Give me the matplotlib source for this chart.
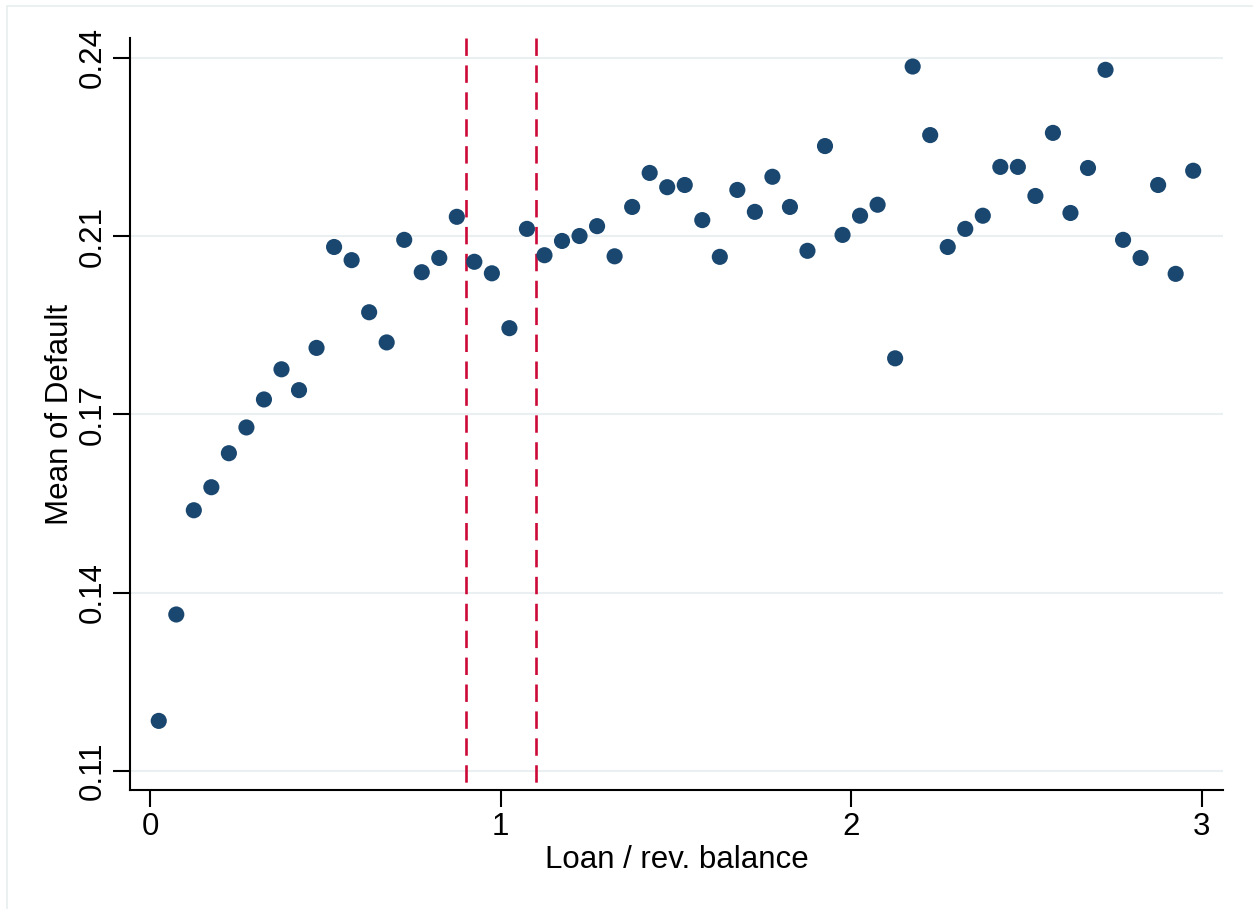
import matplotlib
matplotlib.use("Agg")
import matplotlib.pyplot as plt
from matplotlib.patches import Rectangle

# bin midpoints of loan / revolving balance and mean default rate per bin
bin_mid = [0.025, 0.075, 0.125, 0.175, 0.225, 0.275, 0.325, 0.375, 0.425, 0.475,
           0.525, 0.575, 0.625, 0.675, 0.725, 0.775, 0.825, 0.875, 0.925, 0.975,
           1.025, 1.075, 1.125, 1.175, 1.225, 1.275, 1.325, 1.375, 1.425, 1.475,
           1.525, 1.575, 1.625, 1.675, 1.725, 1.775, 1.825, 1.875, 1.925, 1.975,
           2.025, 2.075, 2.125, 2.175, 2.225, 2.275, 2.325, 2.375, 2.425, 2.475,
           2.525, 2.575, 2.625, 2.675, 2.725, 2.775, 2.825, 2.875, 2.925, 2.975]
mean_default = [0.1191, 0.1385, 0.1575, 0.1617, 0.1679, 0.1726, 0.1777, 0.1832, 0.1794, 0.1871,
                0.2055, 0.2031, 0.1936, 0.1881, 0.2068, 0.2009, 0.2035, 0.2110, 0.2028, 0.2007,
                0.1907, 0.2088, 0.2040, 0.2066, 0.2075, 0.2093, 0.2038, 0.2128, 0.2190, 0.2164,
                0.2168, 0.2104, 0.2037, 0.2159, 0.2119, 0.2183, 0.2128, 0.2048, 0.2239, 0.2077,
                0.2112, 0.2132, 0.1852, 0.2384, 0.2259, 0.2055, 0.2088, 0.2112, 0.2201, 0.2201,
                0.2148, 0.2263, 0.2117, 0.2199, 0.2378, 0.2068, 0.2035, 0.2168, 0.2006, 0.2194]
cutoffs = [0.9, 1.1]
# Stata puts ticks evenly between min and max and prints them with %9.2g
yticks = [0.11, 0.1425, 0.175, 0.2075, 0.24]
ytick_labels = ["0.11", "0.14", "0.17", "0.21", "0.24"]
xticks = [0, 1, 2, 3]

plt.rcParams['font.family'] = ['Liberation Sans', 'DejaVu Sans']

W, H = 1253, 909
fig = plt.figure(figsize=(W / 100, H / 100), dpi=100)
fig.patch.set_facecolor("white")
ax = fig.add_axes([130 / W, 1 - 790 / H, (1223 - 130) / W, (790 - 38) / H])

# light outer frame like the Stata graph region
fig.patches.append(Rectangle((7 / W, -0.1), 1.2, 1 - 6 / H + 0.1, transform=fig.transFigure,
                             fill=False, edgecolor="#e8eeee", linewidth=1.2))

for yv in yticks:
    ax.axhline(yv, color="#eaf0f1", linewidth=1.5, zorder=0)

# drawn top-down so the dash pattern starts at the top like the original
for c in cutoffs:
    ax.axvline(c, ymin=1, ymax=0, color="#cc0a38", linewidth=1.9,
               linestyle=(0, (6.6, 3.6)), zorder=1)

ax.scatter(bin_mid, mean_default, s=135, color="#1a476f", edgecolors="none", zorder=3)

ax.set_xlim(-0.057, 3.06)
ax.set_ylim(0.1065, 0.2436)
ax.set_xticks(xticks)
ax.set_xticklabels([str(v) for v in xticks])
ax.set_yticks(yticks)
ax.set_yticklabels(ytick_labels, rotation=90, va="center")

for side in ["top", "right"]:
    ax.spines[side].set_visible(False)
for side in ["left", "bottom"]:
    ax.spines[side].set_linewidth(1.5)
ax.tick_params(axis="both", direction="out", length=12, width=1.5, labelsize=22.5, pad=4)

ax.set_xlabel("Loan / rev. balance", fontsize=22.5, labelpad=2)
ax.set_ylabel("Mean of Default", fontsize=22.5, labelpad=2)

fig.savefig("out.png", dpi=100, facecolor="white")
